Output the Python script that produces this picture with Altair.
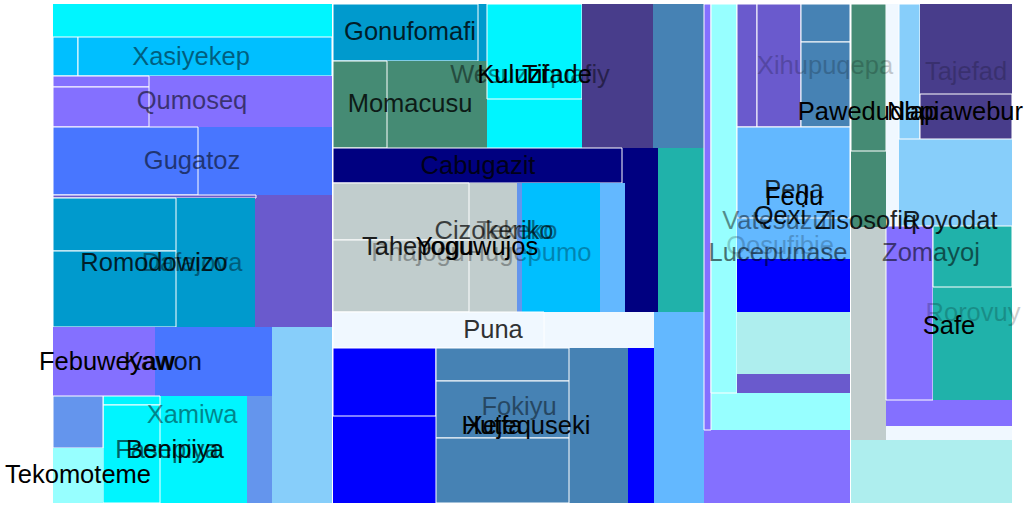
import altair as alt
import pandas as pd

# Treemap cells (layout units), drawn in order: parents first, children on top
x0 = [53, 53, 53, 78, 53, 53, 53, 53, 53, 53, 53, 53, 53, 53, 53, 155, 272, 53, 103, 103, 103, 53, 53,
      333, 333, 333, 333, 487, 487, 582, 653, 333, 333, 658, 333, 333, 333, 517, 522, 600, 333, 333, 654,
      333, 333, 436, 436, 436, 436, 628,
      704, 711, 704, 711, 737, 737, 757, 801, 801, 801, 737, 737, 737, 737, 737,
      851, 851, 851, 886, 899, 899, 920, 920, 886, 886, 933, 933, 886, 851]
x1 = [332, 332, 78, 332, 332, 149, 149, 332, 198, 332, 256, 255, 176, 176, 155, 272, 332, 272, 247, 160, 160, 103, 103,
      487, 478, 487, 387, 582, 582, 653, 704, 658, 622, 704, 517, 469, 469, 522, 600, 625, 654, 544, 704,
      436, 436, 628, 569, 569, 569, 654,
      850, 850, 711, 737, 801, 757, 801, 850, 850, 850, 850, 850, 850, 850, 850,
      886, 886, 886, 899, 1012, 920, 1012, 1012, 1012, 933, 1012, 1012, 1012, 1012]
y0 = [4, 37, 37, 37, 76, 76, 87, 127, 127, 195, 195, 198, 198, 251, 327, 327, 327, 396, 396, 396, 405, 396, 448,
      4, 4, 61, 61, 4, 4, 4, 4, 148, 148, 148, 183, 183, 240, 183, 183, 183, 312, 312, 312,
      348, 348, 348, 348, 381, 438, 348,
      4, 4, 4, 4, 4, 4, 4, 4, 4, 42, 127, 127, 259, 312, 374,
      4, 4, 227, 4, 4, 4, 4, 94, 226, 226, 226, 226, 426, 440]
y1 = [37, 76, 76, 76, 127, 87, 127, 195, 195, 327, 198, 327, 251, 327, 396, 396, 503, 503, 503, 405, 503, 448, 503,
      61, 61, 148, 148, 148, 99, 148, 148, 312, 183, 312, 312, 240, 312, 312, 312, 312, 348, 348, 503,
      503, 416, 503, 381, 438, 503, 503,
      503, 430, 430, 393, 127, 127, 127, 127, 42, 127, 259, 218, 312, 374, 393,
      227, 151, 440, 227, 226, 139, 139, 139, 426, 400, 400, 287, 440, 503]
fills = ["#00F5FF", "#00BFFF", "#00BFFF", "#00BFFF", "#8470FF", "#8470FF", "#8470FF", "#4876FF", "#4876FF",
         "#6A5ACD", "#6A5ACD", "#009ACD", "#009ACD", "#009ACD", "#8470FF", "#4876FF", "#87CEFA", "#6495ED",
         "#00F5FF", "#00F5FF", "#00F5FF", "#6495ED", "#97FFFF",
         "#009ACD", "#009ACD", "#458B74", "#458B74", "#00F5FF", "#00F5FF", "#483D8B", "#4682B4", "#000080",
         "#000080", "#20B2AA", "#C1CDCD", "#C1CDCD", "#C1CDCD", "#6495ED", "#00BFFF", "#63B8FF", "#F0F8FF",
         "#F0F8FF", "#63B8FF",
         "#0000FF", "#0000FF", "#4682B4", "#4682B4", "#4682B4", "#4682B4", "#0000FF",
         "#8470FF", "#97FFFF", "#8470FF", "#97FFFF", "#6A5ACD", "#6A5ACD", "#6A5ACD", "#4682B4", "#4682B4",
         "#4682B4", "#63B8FF", "#63B8FF", "#0000FF", "#AEEEEE", "#6A5ACD",
         "#458B74", "#458B74", "#C1CDCD", "#F0F8FF", "#87CEFA", "#87CEFA", "#483D8B", "#483D8B", "#8470FF",
         "#8470FF", "#20B2AA", "#20B2AA", "#F0F8FF", "#AEEEEE"]
bordered = [0, 0, 1, 1, 0, 1, 1, 0, 1, 0, 1, 0, 1, 1, 0, 0, 0, 0, 0, 1, 1, 1, 0,
            0, 1, 0, 1, 0, 1, 0, 0, 0, 1, 0, 0, 1, 1, 0, 0, 0, 0, 1, 0,
            0, 1, 0, 1, 1, 1, 0,
            0, 0, 1, 1, 0, 1, 1, 0, 1, 1, 0, 1, 0, 0, 0,
            0, 1, 0, 0, 0, 1, 0, 1, 0, 1, 0, 1, 0, 0]

# Labels
labels = ["Xasiyekep", "Qumoseq", "Gugatoz", "Dafajova", "Romodowizo", "Febuweyaw", "Kawon", "Xamiwa",
          "Fasepiya", "Benipiya", "Tekomoteme",
          "Gonufomafi", "Momacusu", "Wesuzoquafiy", "Kuluzi", "Tifade", "Cabugazit",
          "Cizokeriko", "Tekeko", "Phajogu", "Hugepumo", "Tahepogu", "Yoguwujos",
          "Puna", "Fokiyu", "Hutfa", "Xejequseki",
          "Xihupuqepa", "Tajefad", "Pawedudlap", "Napiawebur", "Pena", "Fedu", "Vatesuzuf", "Qexi",
          "Qosufibie", "Lucepunase", "Zisosofiq", "Royodat", "Zomayoj", "Rorovuy", "Safe"]
label_x = [191, 192, 192, 192, 154, 107, 163, 192, 167, 175, 78,
           410, 410, 530, 512, 557, 478,
           494, 517, 418, 529, 418, 477,
           493, 519, 492, 528,
           825, 966, 868, 955, 794, 794, 778, 780,
           780, 778, 866, 950, 931, 973, 949]
label_y = [57, 101, 161, 263, 263, 362, 362, 415, 450, 450, 475,
           32, 104, 75, 75, 75, 166,
           231, 231, 253, 253, 247, 247,
           330, 407, 426, 426,
           66, 72, 112, 112, 190, 197, 221, 216,
           246, 253, 221, 221, 253, 313, 326]
label_alpha = [0.5, 0.55, 0.55, 0.4, 0.8, 1.0, 0.85, 0.45, 0.6, 0.9, 1.0,
               0.8, 0.8, 0.45, 1.0, 0.95, 0.8,
               0.7, 0.45, 0.3, 0.3, 0.85, 1.0,
               0.8, 0.45, 1.0, 0.95,
               0.2, 0.2, 1.0, 1.0, 0.75, 1.0, 0.45, 0.9,
               0.2, 0.55, 0.85, 0.85, 0.55, 0.2, 1.0]

cells = pd.DataFrame({"x0": x0, "x1": x1, "y0": y0, "y1": y1, "fill": fills,
                      "border": bordered, "order": list(range(len(x0)))})
texts = pd.DataFrame({"label": labels, "x": label_x, "y": label_y, "alpha": label_alpha})

xs = alt.Scale(domain=[53, 1013], range=[0, 960])
ys = alt.Scale(domain=[3, 503], range=[0, 500])

rects = alt.Chart(cells).mark_rect(stroke="white", strokeWidth=1).encode(
    x=alt.X("x0:Q", scale=xs, axis=None),
    x2="x1:Q",
    y=alt.Y("y0:Q", scale=ys, axis=None),
    y2="y1:Q",
    fill=alt.Fill("fill:N", scale=None),
    strokeOpacity=alt.StrokeOpacity("border:Q", scale=None),
    order=alt.Order("order:Q"),
)

labels_layer = alt.Chart(texts).mark_text(
    font="Liberation Sans", fontSize=25.5, align="center", baseline="middle", color="black"
).encode(
    x=alt.X("x:Q", scale=xs, axis=None),
    y=alt.Y("y:Q", scale=ys, axis=None),
    text="label:N",
    opacity=alt.Opacity("alpha:Q", scale=None),
)

chart = alt.layer(rects, labels_layer).properties(
    width=960, height=500,
    padding={"left": 53, "top": 3, "right": 11, "bottom": 4},
    autosize=alt.AutoSizeParams(type="none"),
    background="white",
).configure_view(stroke=None)

chart.save("out.html", embed_options={"renderer": "svg", "actions": False})
